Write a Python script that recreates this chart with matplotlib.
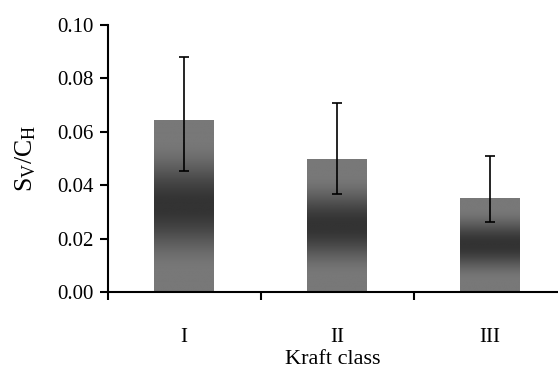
import numpy as np
import matplotlib
matplotlib.use("Agg")
import matplotlib.pyplot as plt

plt.rcParams['font.family'] = ['Liberation Serif', 'DejaVu Serif']
plt.rcParams['mathtext.fontset'] = 'custom'
plt.rcParams['mathtext.rm'] = 'Liberation Serif'
plt.rcParams['mathtext.it'] = 'Liberation Serif:italic'

# data
classes = ['I', 'II', 'III']
means = [0.0645, 0.0498, 0.0353]
err_low = [0.0192, 0.0130, 0.0091]
err_high = [0.0235, 0.0210, 0.0157]

fig = plt.figure(figsize=(5.58, 3.71), dpi=100)
ax = fig.add_axes([0.193, 0.213, 0.807, 0.7197])

x = np.arange(1, len(classes) + 1)
bars = ax.bar(x, means, width=0.39, color='none', edgecolor='none', zorder=2)

# vertical gradient: grey at ends, dark in the middle
t = np.linspace(0, 1, 256)
d = np.clip(np.abs(t - 0.5) / 0.38, 0, 1)
bump = 0.5 * (1 + np.cos(np.pi * d))
shade = 0.47 - (0.47 - 0.2) * bump
grad = np.repeat(shade[:, None], 2, axis=1)
for b in bars:
    x0, y0 = b.get_x(), b.get_y()
    w, h = b.get_width(), b.get_height()
    im = ax.imshow(grad, cmap='gray', vmin=0, vmax=1, aspect='auto',
                   extent=[x0, x0 + w, y0 + h, y0], origin='upper', zorder=2)
    im.set_clip_path(b)

ax.errorbar(x, means, yerr=[err_low, err_high], fmt='none', ecolor='black',
            elinewidth=1.2, capsize=3.5, capthick=1.2, zorder=3)

ax.set_xlim(0.5, 3.443)
ax.set_ylim(0, 0.1)
ax.set_yticks(np.arange(0, 0.101, 0.02))
ax.set_yticklabels(['%.2f' % v for v in np.arange(0, 0.101, 0.02)])
ax.set_xticks(x)
ax.set_xticklabels(classes)
ax.set_xticks([0.5, 1.5, 2.5], minor=True)
ax.tick_params(axis='x', which='major', length=0, pad=26, labelsize=15)
ax.tick_params(axis='x', which='minor', length=6, width=1.5, direction='out')
ax.tick_params(axis='y', length=6, width=1.5, direction='out', labelsize=15, pad=4)

for s in ['top', 'right']:
    ax.spines[s].set_visible(False)
for s in ['left', 'bottom']:
    ax.spines[s].set_linewidth(1.5)

ax.set_xlabel('Kraft class', fontsize=16, labelpad=2)
ax.set_ylabel(r'$\mathrm{S_V/C_H}$', fontsize=18.5, labelpad=14)

fig.savefig('out.png', dpi=100)
